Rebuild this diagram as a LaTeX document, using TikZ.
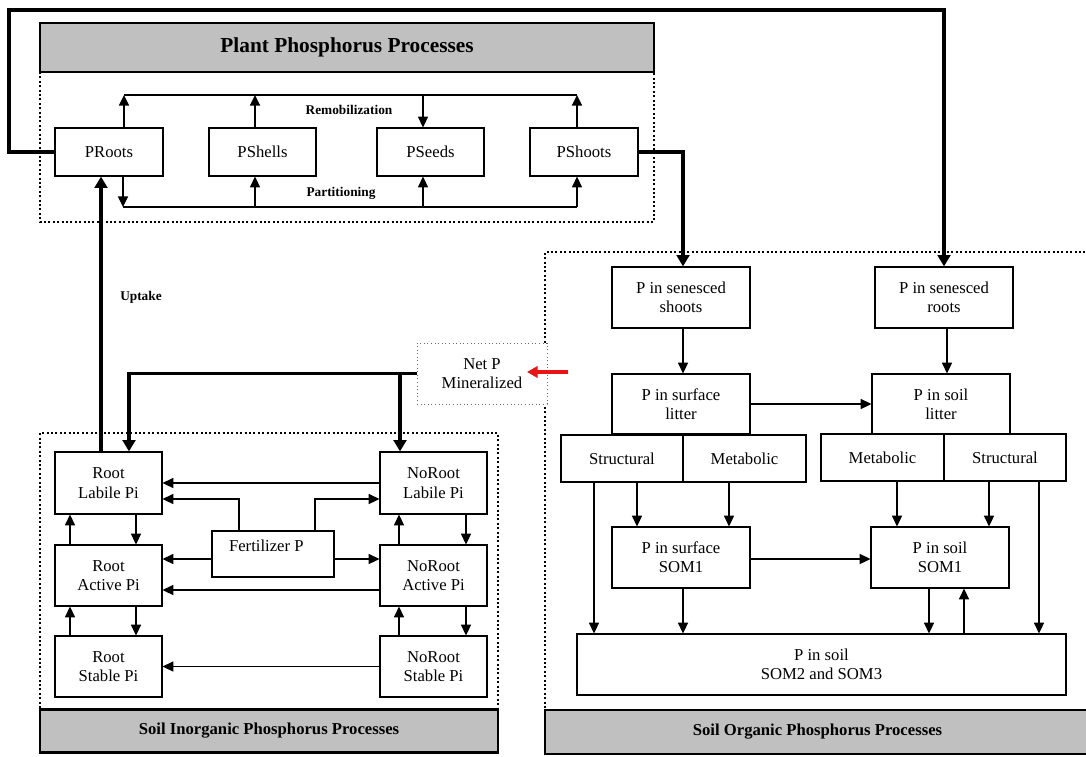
\documentclass[tikz,border=0pt]{standalone}
\usepackage{fontspec}
\setmainfont{Liberation Serif}
\usetikzlibrary{arrows.meta}
\definecolor{hdrgray}{RGB}{192,192,192}
\definecolor{redarrow}{RGB}{235,20,20}
\begin{document}
\begin{tikzpicture}[x=0.75pt,y=-0.75pt,
  box/.style={draw,line width=0.9pt,align=center,inner sep=0pt,font=\fontsize{12.5}{14.5}\selectfont,fill=white},
  hdr/.style={draw,line width=2pt,fill=hdrgray,inner sep=0pt,font=\bfseries},
  cont/.style={line width=1.8pt,dash pattern=on 1.5pt off 1.8pt},
  arr/.style={line width=1.2pt,-{Triangle[length=8pt,width=7.5pt]}},
  plain/.style={line width=1.2pt},
  thk/.style={line width=2.8pt},
  thkarr/.style={line width=2.8pt,-{Triangle[length=8.5pt,width=9.5pt]}},
  lbl/.style={font=\bfseries\fontsize{10}{12}\selectfont,inner sep=0pt}]
\useasboundingbox (0,0) rectangle (1086,757);

% ---------- containers and headers ----------
\draw[cont] (40,72) -- (40,222) -- (654,222) -- (654,72);
\node[hdr,minimum width=460.5pt,minimum height=36.75pt,font=\bfseries\fontsize{16}{18}\selectfont] (hplant) at (347,47.5) {Plant Phosphorus Processes};
\draw[cont] (40,708) -- (40,433) -- (498,433) -- (498,708);
\node[hdr,minimum width=343.5pt,minimum height=32.25pt,font=\bfseries\fontsize{12.5}{14}\selectfont] (hinorg) at (269,731) {Soil Inorganic Phosphorus Processes};
\draw[cont] (545,708) -- (545,252) -- (1086,252);
\node[hdr,minimum width=408.75pt,minimum height=33pt,font=\bfseries\fontsize{12.5}{14}\selectfont] (horg) at (817.5,732) {Soil Organic Phosphorus Processes};

% ---------- plant boxes ----------
\node[box,minimum width=81pt,minimum height=36pt] (proots) at (109,152) {PRoots};
\node[box,minimum width=80.25pt,minimum height=36pt] (pshells) at (262.5,152) {PShells};
\node[box,minimum width=80.25pt,minimum height=36pt] (pseeds) at (430.5,152) {PSeeds};
\node[box,minimum width=81pt,minimum height=36pt] (pshoots) at (584,152) {PShoots};

% ---------- inorganic boxes ----------
\node[box,minimum width=80.25pt,minimum height=46.5pt] (rlab) at (108.5,483) {Root\\Labile Pi};
\node[box,minimum width=80.25pt,minimum height=46.5pt] (nlab) at (433.5,483) {NoRoot\\Labile Pi};
\node[box,minimum width=80.25pt,minimum height=45.75pt] (ract) at (108.5,575.5) {Root\\Active Pi};
\node[box,minimum width=80.25pt,minimum height=45.75pt] (nact) at (433.5,575.5) {NoRoot\\Active Pi};
\node[box,minimum width=80.25pt,minimum height=45.75pt] (rstab) at (108.5,666.5) {Root\\Stable Pi};
\node[box,minimum width=80.25pt,minimum height=45.75pt] (nstab) at (433.5,666.5) {NoRoot\\Stable Pi};
\node[box,minimum width=91.5pt,minimum height=34.5pt,text depth=12pt] (fert) at (273,554) {Fertilizer P\hspace*{10pt}};

% ---------- net P ----------
\node[box,draw=gray!80!black,line width=0.7pt,dotted,minimum width=97.5pt,minimum height=45.75pt] (netp) at (482,373.5) {Net P\\Mineralized};

% ---------- organic boxes ----------
\node[box,minimum width=103.5pt,minimum height=45.75pt] (sshoots) at (681,297.5) {P in senesced\\shoots};
\node[box,minimum width=103.5pt,minimum height=45.75pt] (sroots) at (944,297.5) {P in senesced\\roots};
\node[box,minimum width=103.5pt,minimum height=45pt] (slit) at (681,404) {P in surface\\litter};
\node[box,minimum width=103.5pt,minimum height=45pt] (soillit) at (941,404) {P in soil\\litter};
\node[box,minimum width=91.5pt,minimum height=35.25pt] (strL) at (622,458.5) {Structural};
\node[box,minimum width=92.25pt,minimum height=35.25pt] (metL) at (744.5,458.5) {Metabolic};
\node[box,minimum width=92.25pt,minimum height=35.25pt] (metR) at (882.5,457.5) {Metabolic};
\node[box,minimum width=91.5pt,minimum height=35.25pt] (strR) at (1005,457.5) {Structural};
\node[box,minimum width=103.5pt,minimum height=45.75pt] (ssom) at (681,557.5) {P in surface\\SOM1};
\node[box,minimum width=103.5pt,minimum height=45.75pt] (soilsom) at (940,557.5) {P in soil\\SOM1};
\node[box,minimum width=366.75pt,minimum height=45.75pt] (som23) at (821.5,664.5) {P in soil\\SOM2 and SOM3};

% ---------- helper coordinates ----------
\coordinate (loopL) at (9,10);
\coordinate (rmA) at (124,95); \coordinate (rmB) at (255,95);
\coordinate (rmC) at (423,95); \coordinate (rmD) at (577,95);
\coordinate (ptA) at (123,207); \coordinate (ptB) at (255,207);
\coordinate (ptC) at (423,207); \coordinate (ptD) at (577,207);
\coordinate (uptx) at (101,300);
\coordinate (npA) at (129,374); \coordinate (npB) at (400,374);
\coordinate (redS) at (568,372); \coordinate (redE) at (527,372);
\coordinate (fA) at (239,499); \coordinate (fB) at (315,499);
\coordinate (yFa) at (0,559); \coordinate (yAct) at (0,590);
\coordinate (cUp) at (70,0); \coordinate (cDn) at (136,0);
\coordinate (nUp) at (399,0); \coordinate (nDn) at (466,0);
\coordinate (xA) at (594,0); \coordinate (xB) at (637,0); \coordinate (xC) at (729,0);
\coordinate (xD) at (897,0); \coordinate (xE) at (989,0); \coordinate (xF) at (1039,0);
\coordinate (xG) at (683,0); \coordinate (xH) at (929,0); \coordinate (xI) at (964,0);
\coordinate (xJ) at (947,0); \coordinate (ySom) at (0,559);

% ---------- plant connectors ----------
\draw[thkarr] (proots.west) -| (loopL) -| (sroots.north);
\draw[thkarr] (pshoots.east) -| (sshoots.north -| xG);
\draw[plain] (rmA) -- (rmD);
\draw[arr] (proots.north -| rmA) -- (rmA);
\draw[arr] (pshells.north -| rmB) -- (rmB);
\draw[arr] (rmC) -- (pseeds.north -| rmC);
\draw[arr] (pshoots.north -| rmD) -- (rmD);
\node[lbl] (remob) at (349,110) {Remobilization};
\draw[plain] (ptA) -- (ptD);
\draw[arr] (proots.south -| ptA) -- (ptA);
\draw[arr] (ptB) -- (pshells.south -| ptB);
\draw[arr] (ptC) -- (pseeds.south -| ptC);
\draw[arr] (ptD) -- (pshoots.south -| ptD);
\node[lbl] (partit) at (341,193) {Partitioning};

% ---------- uptake and net P ----------
\draw[thkarr] (rlab.north -| uptx) -- (proots.south -| uptx);
\node[lbl] (uptake) at (141,297) {Uptake};
\draw[thkarr] (netp.west) -| (npA |- rlab.north);
\draw[thkarr] (npB) -- (npB |- nlab.north);
\draw[line width=2.6pt,redarrow,-{Triangle[length=8pt,width=8.5pt]}] (redS) -- (redE);

% ---------- inorganic connectors ----------
\draw[arr] (nlab.west) -- (rlab.east);
\draw[arr] (fert.north -| fA) |- (rlab.east |- fA);
\draw[arr] (fert.north -| fB) |- (nlab.west |- fB);
\draw[arr] (fert.west |- yFa) -- (ract.east |- yFa);
\draw[arr] (fert.east |- yFa) -- (nact.west |- yFa);
\draw[arr] (nact.west |- yAct) -- (ract.east |- yAct);
\draw[arr] (nstab.west) -- (rstab.east);
\draw[arr] (ract.north -| cUp) -- (rlab.south -| cUp);
\draw[arr] (rstab.north -| cUp) -- (ract.south -| cUp);
\draw[arr] (rlab.south -| cDn) -- (ract.north -| cDn);
\draw[arr] (ract.south -| cDn) -- (rstab.north -| cDn);
\draw[arr] (nact.north -| nUp) -- (nlab.south -| nUp);
\draw[arr] (nstab.north -| nUp) -- (nact.south -| nUp);
\draw[arr] (nlab.south -| nDn) -- (nact.north -| nDn);
\draw[arr] (nact.south -| nDn) -- (nstab.north -| nDn);

% ---------- organic connectors ----------
\draw[arr] (sshoots.south -| xG) -- (slit.north -| xG);
\draw[arr] (sroots.south -| xJ) -- (soillit.north -| xJ);
\draw[arr] (slit.east) -- (soillit.west);
\draw[arr] (strL.south -| xA) -- (som23.north -| xA);
\draw[arr] (strL.south -| xB) -- (ssom.north -| xB);
\draw[arr] (metL.south -| xC) -- (ssom.north -| xC);
\draw[arr] (metR.south -| xD) -- (soilsom.north -| xD);
\draw[arr] (strR.south -| xE) -- (soilsom.north -| xE);
\draw[arr] (strR.south -| xF) -- (som23.north -| xF);
\draw[arr] (ssom.east |- ySom) -- (soilsom.west |- ySom);
\draw[arr] (ssom.south -| xG) -- (som23.north -| xG);
\draw[arr] (soilsom.south -| xH) -- (som23.north -| xH);
\draw[arr] (som23.north -| xI) -- (soilsom.south -| xI);
\end{tikzpicture}
\end{document}
